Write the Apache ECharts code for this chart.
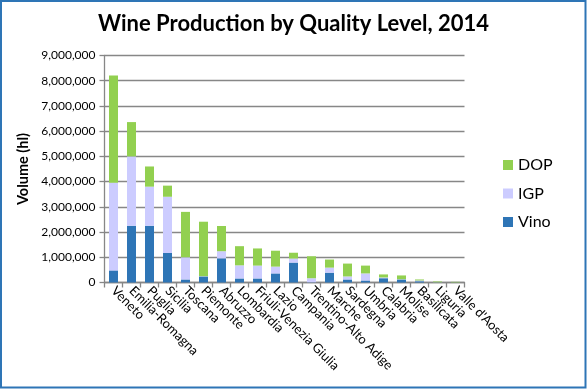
<!DOCTYPE html>
<html><head><meta charset="utf-8">
<script src="https://cdn.jsdelivr.net/npm/echarts@6/dist/echarts.min.js"></script>
<style>html,body{margin:0;padding:0;background:#fff}#c{width:587px;height:389px}</style>
</head><body><div id="c"></div>
<script>
const categories = ["Veneto","Emilia-Romagna","Puglia","Sicilia","Toscana","Piemonte","Abruzzo","Lombardia","Friuli-Venezia Giulia","Lazio","Campania","Trentino-Alto Adige","Marche","Sardegna","Umbria","Calabria","Molise","Basilicata","Liguria","Valle d'Aosta"];
const vino = [480000,2250000,2250000,1170000,120000,240000,960000,160000,160000,360000,790000,10000,390000,120000,80000,170000,120000,50000,5000,3000];
const igp  = [3470000,2750000,1550000,2230000,880000,10000,280000,520000,510000,270000,160000,160000,200000,120000,280000,30000,10000,30000,5000,2000];
const dop  = [4260000,1360000,800000,440000,1800000,2160000,1000000,760000,680000,630000,230000,870000,320000,510000,310000,120000,150000,40000,30000,20000];
const yTicks = {min:0, max:9000000, interval:1000000};
const font = "Lato";
const chart = echarts.init(document.getElementById('c'), null, {renderer:'canvas'});
chart.setOption({
  animation:false,
  textStyle:{fontFamily:font},
  title:{text:"Wine Production by Quality Level, 2014", left:'center', top:8,
    textStyle:{fontFamily:font, fontWeight:'bold', fontSize:22, color:'#000'}},
  graphic:[{type:'rect', shape:{x:1,y:1,width:584.5,height:386.5}, style:{fill:'none', stroke:'#2E75B6', lineWidth:2}, silent:true}],
  legend:{orient:'vertical', left:498, top:152, itemWidth:10, itemHeight:10, itemGap:12.5,
    data:['DOP','IGP','Vino'], textStyle:{fontFamily:font, fontSize:16, color:'#000'}, icon:'rect'},
  grid:{left:104.5, right:122.5, top:55.5, bottom:106.5, containLabel:false},
  xAxis:{type:'category', data:categories,
    axisLine:{lineStyle:{color:'#878787', width:1.3}},
    axisTick:{show:true, length:5, lineStyle:{color:'#878787', width:1.3}},
    axisLabel:{rotate:-45, interval:0, fontSize:13, color:'#000', fontFamily:font, margin:6}},
  yAxis:{type:'value', min:yTicks.min, max:yTicks.max, interval:yTicks.interval,
    name:'Volume (hl)', nameLocation:'middle', nameGap:64, nameRotate:90,
    nameTextStyle:{fontFamily:font, fontWeight:'bold', fontSize:14.5, color:'#000'},
    axisLine:{show:true, lineStyle:{color:'#878787', width:1.3}},
    axisTick:{show:true, length:5, inside:false, lineStyle:{color:'#878787', width:1.3}},
    splitLine:{lineStyle:{color:'#878787', width:1.3}},
    axisLabel:{fontSize:12, color:'#000', fontFamily:font, margin:9,
      formatter:v=>v.toLocaleString('en-US')}},
  series:[
    {name:'Vino', type:'bar', stack:'s', data:vino, barWidth:9, itemStyle:{color:'#2E75B6'}},
    {name:'IGP', type:'bar', stack:'s', data:igp, barWidth:9, itemStyle:{color:'#CCCCFF'}},
    {name:'DOP', type:'bar', stack:'s', data:dop, barWidth:9, itemStyle:{color:'#92D050'}}
  ]
});
</script></body></html>
